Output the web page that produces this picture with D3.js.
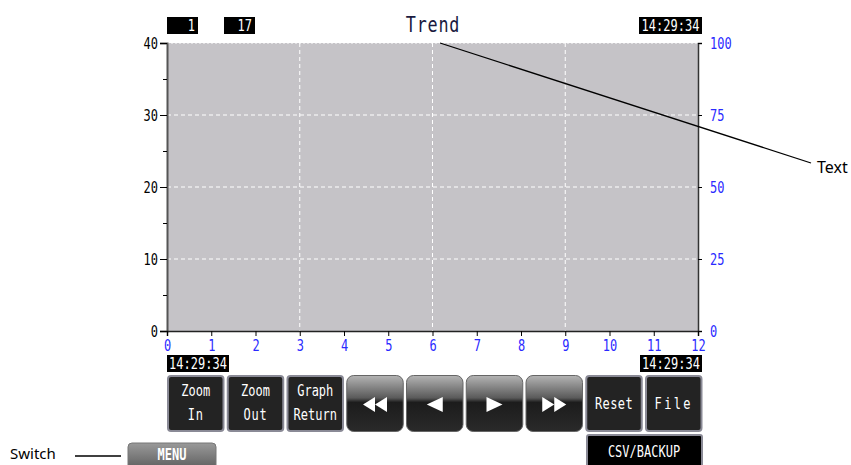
<!DOCTYPE html>
<html><head><meta charset="utf-8">
<script src="https://cdn.jsdelivr.net/npm/d3@7"></script>
<style>body{margin:0;background:#fff;}svg{display:block;}</style>
</head><body>
<svg id="c" width="851" height="465"></svg>
<script>
const xTicks = [0,1,2,3,4,5,6,7,8,9,10,11,12];
const xGrid = [3,6,9];
const leftTicks = [0,10,20,30,40];
const leftMinor = [5,15,25,35];
const rightTicks = [0,25,50,75,100];
const title = "Trend";
const timeLabel = "14:29:34";
const counterLabels = ["1","17"];
const buttonLabels = [["Zoom","In"],["Zoom","Out"],["Graph","Return"],["<<"],["<"],[">"],[">>"],["Reset"],["File"]];
const annotations = {text:"Text", switchLabel:"Switch", menu:"MENU", csv:"CSV/BACKUP"};

const svg = d3.select("#c");
const mono = "'DejaVu Sans Mono', monospace";
const SX = 0.8;
const x = d3.scaleLinear().domain([0,12]).range([167,698]);
const yL = d3.scaleLinear().domain([0,40]).range([331,43]);
const yR = d3.scaleLinear().domain([0,100]).range([331,43]);

function ctext(parent, tx, ty, str, size, fill, anchor, ls) {
  return parent.append("text").attr("transform",`translate(${tx},${ty}) scale(${SX},1)`)
    .attr("text-anchor",anchor||"middle").attr("font-family",mono).attr("font-size",size)
    .attr("fill",fill).attr("letter-spacing",ls||0).text(str);
}

const defs = svg.append("defs");
const g1 = defs.append("linearGradient").attr("id","gloss").attr("x1",0).attr("y1",0).attr("x2",0).attr("y2",1);
g1.append("stop").attr("offset","0%").attr("stop-color","#b4b4b4");
g1.append("stop").attr("offset","40%").attr("stop-color","#5a5a5a");
g1.append("stop").attr("offset","48%").attr("stop-color","#1c1c1c");
g1.append("stop").attr("offset","100%").attr("stop-color","#2a2a2a");
const g2 = defs.append("linearGradient").attr("id","menuG").attr("x1",0).attr("y1",0).attr("x2",0).attr("y2",1);
g2.append("stop").attr("offset","0%").attr("stop-color","#9a9a9a");
g2.append("stop").attr("offset","100%").attr("stop-color","#5e5e5e");

// plot background
svg.append("rect").attr("x",x(0)).attr("y",yL(40)).attr("width",x(12)-x(0)).attr("height",yL(0)-yL(40)).attr("fill","#c5c3c7");

// grid
svg.append("g").selectAll("line").data(xGrid).join("line")
  .attr("x1",d=>x(d)).attr("x2",d=>x(d)).attr("y1",yL(40)).attr("y2",yL(0))
  .attr("stroke","#fff").attr("stroke-dasharray","4,3").attr("stroke-width",1);
svg.append("g").selectAll("line").data(leftTicks.filter(d=>d>0)).join("line")
  .attr("x1",x(0)).attr("x2",x(12)).attr("y1",d=>yL(d)).attr("y2",d=>yL(d))
  .attr("stroke","#fff").attr("stroke-dasharray",d=>d===40?"2,2":"4,3").attr("stroke-width",1);

// left axis
const la = svg.append("g").attr("transform",`translate(${x(0)},0)`)
  .call(d3.axisLeft(yL).tickValues(leftTicks).tickSize(7).tickPadding(4));
la.select(".domain").attr("stroke","#555").attr("stroke-width",2);
la.selectAll("text").attr("font-family",mono).attr("font-size",15).attr("fill","#000")
  .attr("transform",`scale(${SX},1)`).attr("x",-9/SX).attr("dy","0.35em");
svg.append("g").attr("transform",`translate(${x(0)},0)`)
  .call(d3.axisLeft(yL).tickValues(leftMinor).tickSize(4).tickFormat(""))
  .select(".domain").remove();

// right axis
const ra = svg.append("g").attr("transform",`translate(${x(12)},0)`)
  .call(d3.axisRight(yR).tickValues(rightTicks).tickSize(4).tickPadding(8));
ra.select(".domain").attr("stroke","#333").attr("stroke-width",1.5);
ra.selectAll("text").attr("font-family",mono).attr("font-size",15).attr("fill","#2a2aff")
  .attr("transform",`scale(${SX},1)`).attr("x",12/SX).attr("dy","0.35em");

// bottom axis
const ba = svg.append("g").attr("transform",`translate(0,${yL(0)})`)
  .call(d3.axisBottom(x).tickValues(xTicks).tickSize(5).tickPadding(5));
ba.select(".domain").attr("stroke","#222").attr("stroke-width",1.5);
ba.selectAll("text").attr("font-family",mono).attr("font-size",15).attr("fill","#2a2aff")
  .attr("transform",`scale(${SX},1)`).attr("y",9);

// title
ctext(svg,433,32,title,21,"#1a1a40","middle",1);

// black label boxes
function blackBox(bx, by, w, h, label, anchor) {
  svg.append("rect").attr("x",bx).attr("y",by).attr("width",w).attr("height",h).attr("fill","#000");
  ctext(svg, anchor==="end"?bx+w-3:bx+w/2, by+h-3, label, 15, "#fff", anchor||"middle");
}
blackBox(167,17,31,17,counterLabels[0],"end");
blackBox(224,17,31,17,counterLabels[1],"end");
blackBox(639,17,63,17,timeLabel);
blackBox(167,355,62,17,timeLabel);
blackBox(640,355,62,17,timeLabel);

// buttons
const bx0 = 167, bw = 57.5, gap = 2.25, by0 = 375, bh = 57;
buttonLabels.forEach((lab,i)=>{
  const bx = bx0 + i*(bw+gap);
  const isArrow = /^[<>]+$/.test(lab[0]);
  const g = svg.append("g");
  if (isArrow) {
    g.append("rect").attr("x",bx+0.5).attr("y",by0+0.5).attr("width",bw-1).attr("height",bh-1)
      .attr("rx",7).attr("fill","url(#gloss)").attr("stroke","#666").attr("stroke-width",1);
    const cx = bx + bw/2, cy = by0 + bh/2 + 1;
    const n = lab[0].length, dir = lab[0][0]===">" ? 1 : -1;
    const tw = n===2?12:16, th = 15;
    for (let k=0;k<n;k++){
      const off = (k - (n-1)/2) * tw;
      const tip = cx + off + dir*tw/2, base = cx + off - dir*tw/2;
      g.append("path").attr("d",`M${base},${cy-th/2}L${tip},${cy}L${base},${cy+th/2}Z`).attr("fill","#fff");
    }
  } else {
    g.append("rect").attr("x",bx+1).attr("y",by0+1).attr("width",bw-2).attr("height",bh-2)
      .attr("rx",3).attr("fill","#232323").attr("stroke","#8a8a96").attr("stroke-width",2);
    if (lab.length===2){
      ctext(g,bx+bw/2,by0+21,lab[0],15,"#fff","middle");
      ctext(g,bx+bw/2,by0+45,lab[1],15,"#fff","middle",lab[1]==="Return"?0:1);
    } else {
      ctext(g,bx+bw/2,by0+34,lab[0],15,"#fff","middle",lab[0]==="File"?3:0.5);
    }
  }
});

// CSV/BACKUP
svg.append("rect").attr("x",587).attr("y",435).attr("width",115).attr("height",32)
  .attr("fill","#000").attr("stroke","#8a8a96").attr("stroke-width",2).attr("rx",2);
ctext(svg,644,457,annotations.csv,15,"#fff","middle");

// MENU
svg.append("rect").attr("x",128).attr("y",443).attr("width",88).attr("height",26).attr("rx",4)
  .attr("fill","url(#menuG)").attr("stroke","#777");
ctext(svg,172,460,annotations.menu,15,"#fff","middle").attr("font-weight","bold");

// annotations
svg.append("line").attr("x1",440).attr("y1",43).attr("x2",811).attr("y2",163).attr("stroke","#000").attr("stroke-width",1.3);
svg.append("text").attr("x",817).attr("y",173).attr("font-family","'Noto Sans', sans-serif").attr("font-size",16).attr("fill","#000").text(annotations.text);
svg.append("line").attr("x1",75).attr("y1",456).attr("x2",121).attr("y2",456).attr("stroke","#000").attr("stroke-width",1.5);
svg.append("text").attr("x",10).attr("y",459).attr("font-family","'Noto Sans', sans-serif").attr("font-size",15).attr("fill","#000").text(annotations.switchLabel);
</script>
</body></html>
